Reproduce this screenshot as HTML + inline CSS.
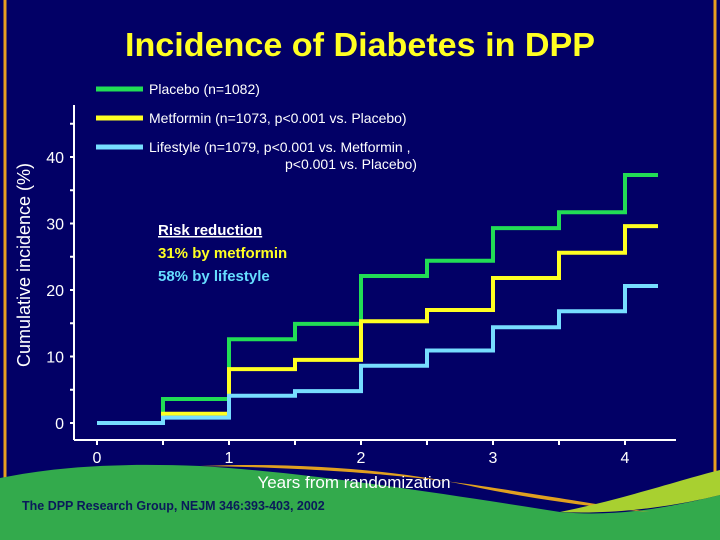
<!DOCTYPE html>
<html><head><meta charset="utf-8"><style>
body{margin:0;width:720px;height:540px;overflow:hidden;background:#020066;font-family:"Liberation Sans",sans-serif}
svg{display:block}
</style></head><body>
<svg width="720" height="540">
<rect x="0" y="0" width="720" height="540" fill="#020066"/>
<line x1="5" y1="0" x2="5" y2="490" stroke="#e8a020" stroke-width="3"/>
<line x1="715" y1="0" x2="715" y2="480" stroke="#e8a020" stroke-width="3"/>
<text x="125" y="56" textLength="470" lengthAdjust="spacingAndGlyphs" font-size="33" font-weight="bold" fill="#ffff22">Incidence of Diabetes in DPP</text>
<g id="axes"></g>
<g id="series"></g>
<g>
<line x1="96" y1="89" x2="143" y2="89" stroke="#22dd55" stroke-width="5"/>
<text x="149" y="94" font-size="14" fill="#fff">Placebo (n=1082)</text>
<line x1="96" y1="118" x2="143" y2="118" stroke="#ffff22" stroke-width="5"/>
<text x="149" y="123" font-size="14" fill="#fff">Metformin (n=1073, p&lt;0.001 vs. Placebo)</text>
<line x1="96" y1="147" x2="143" y2="147" stroke="#77ddff" stroke-width="5"/>
<text x="149" y="152" font-size="14" fill="#fff">Lifestyle (n=1079, p&lt;0.001 vs. Metformin ,</text>
<text x="285" y="169" font-size="14" fill="#fff">p&lt;0.001 vs. Placebo)</text>
</g>
<g font-size="15" font-weight="bold">
<text x="158" y="235" fill="#fff" text-decoration="underline">Risk reduction</text>
<text x="158" y="258" fill="#ffff22">31% by metformin</text>
<text x="158" y="281" fill="#66ddff">58% by lifestyle</text>
</g>
<text x="30" y="265" font-size="18" fill="#fff" text-anchor="middle" transform="rotate(-90 30 265)">Cumulative incidence (%)</text>
<path d="M0 540 L0 478 C60 466 120 463 200 466 C300 472 420 490 560 512 C620 518 680 505 720 495 L720 540 Z" fill="#33aa4c"/>
<path d="M200 466 C300 462 400 470 480 488 C540 500 600 508 650 512 C600 505 560 498 520 492 C450 480 350 468 200 466Z" fill="#e0a020"/>
<path d="M560 512 C620 500 680 480 720 470 L720 495 C680 505 620 515 560 512Z" fill="#a8d030"/>
<text x="354" y="488" font-size="17" fill="#fff" text-anchor="middle">Years from randomization</text>
<text x="22" y="510" font-size="12.5" font-weight="bold" fill="#0a1a5a">The DPP Research Group, NEJM 346:393-403, 2002</text>
</svg>
<script>
const years=[0,0.5,1,1.5,2,2.5,3,3.5,4];
const placebo=[0,3.6,12.6,14.9,22.1,24.4,29.3,31.7,37.3];
const metformin=[0,1.4,8.1,9.5,15.3,17,21.8,25.6,29.6];
const lifestyle=[0,0.8,4.1,4.8,8.6,10.9,14.4,16.8,20.6];
const xTicks=[0,1,2,3,4];
const yTicks=[0,10,20,30,40];
const xEnd=4.25;
const NS='http://www.w3.org/2000/svg';
const X=v=>97+v*132;
const Y=v=>423-v*6.65;
const axes=document.getElementById('axes'),ser=document.getElementById('series');
function mk(tag,attrs,parent){const e=document.createElementNS(NS,tag);for(const k in attrs)e.setAttribute(k,attrs[k]);parent.appendChild(e);return e;}
let l=mk('line',{x1:74,y1:105,x2:74,y2:440,stroke:'#fff','stroke-width':2},axes);


l=mk('line',{x1:74,y1:440,x2:676,y2:440,stroke:'#fff','stroke-width':2},axes);


for(let v=0;v<=45;v+=5){const t=mk('line',{x1:70,y1:Y(v),x2:74,y2:Y(v),stroke:'#fff','stroke-width':2},axes);

}
yTicks.forEach(v=>{const t=mk('text',{x:64,y:Y(v)+6,'font-size':16,fill:'#fff','text-anchor':'end'},axes);t.textContent=v;

});
for(let v=0;v<=4;v+=0.5){const t=mk('line',{x1:X(v),y1:440,x2:X(v),y2:445,stroke:'#fff','stroke-width':2},axes);

}
xTicks.forEach(v=>{const t=mk('text',{x:X(v),y:463,'font-size':16,fill:'#fff','text-anchor':'middle'},axes);t.textContent=v;

});
function step(vals,color,name){let d='';vals.forEach((v,i)=>{const x0=X(years[i]),x1=X(i<years.length-1?years[i+1]:xEnd);d+=(i?'L':'M')+x0+' '+Y(v)+' L'+x1+' '+Y(v)+' ';});
const p=mk('path',{d:d,fill:'none',stroke:color,'stroke-width':4},ser);

}
step(placebo,'#22dd55','placebo-line');
step(metformin,'#ffff22','metformin-line');
step(lifestyle,'#77ddff','lifestyle-line');
</script>
</body></html>
